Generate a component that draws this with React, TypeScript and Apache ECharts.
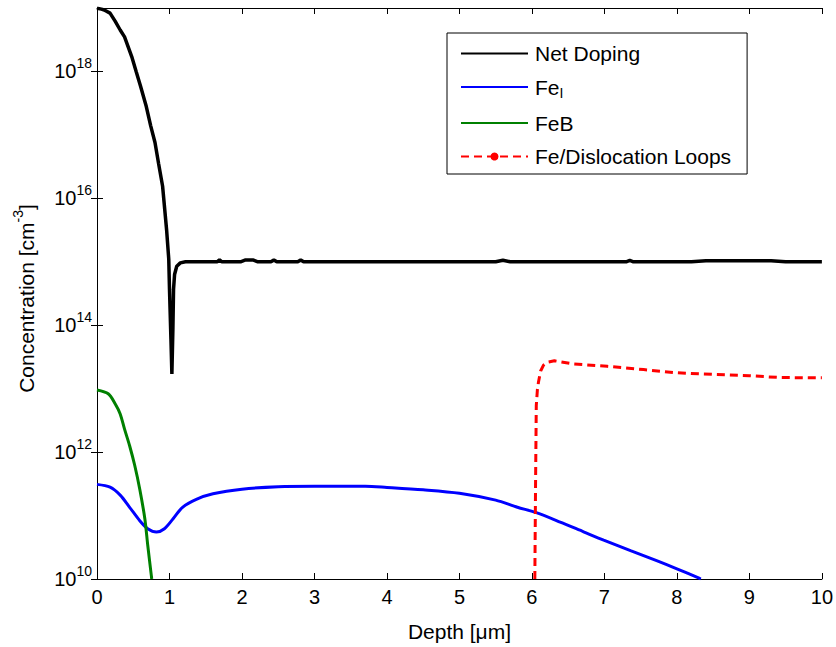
import React, { useEffect, useRef } from 'react';
import * as echarts from 'echarts';

// ---------- data ----------
const xTickLabels = [0, 1, 2, 3, 4, 5, 6, 7, 8, 9, 10];
const yTickValues = [1e10, 1e12, 1e14, 1e16, 1e18];

const netDepth = [0, 0.06, 0.1, 0.18, 0.25, 0.32, 0.38, 0.48, 0.54, 0.6, 0.68, 0.74, 0.8, 0.85, 0.905, 0.96, 0.99, 1.0, 1.02, 1.033, 1.047, 1.056, 1.07, 1.1, 1.15, 1.22, 1.6, 1.66, 1.69, 1.72, 1.98, 2.05, 2.15, 2.22, 2.4, 2.44, 2.48, 2.77, 2.81, 2.85, 4.0, 5.5, 5.6, 5.7, 7.3, 7.35, 7.4, 8.2, 8.4, 9.3, 9.5, 9.6, 10];
const netConc = [9.9e18, 9.6e18, 9.3e18, 8.3e18, 6.2e18, 4.5e18, 3.5e18, 1.7e18, 1.0e18, 5.9e17, 2.8e17, 1.4e17, 7.6e16, 3.5e16, 1.55e16, 3.2e15, 1.1e15, 3.7e14, 6.0e13, 1.7e13, 8.7e13, 3.7e14, 6.3e14, 8.5e14, 9.6e14, 1.0e15, 1.0e15, 1.0e15, 1.08e15, 1.0e15, 1.0e15, 1.07e15, 1.07e15, 1.0e15, 1.0e15, 1.07e15, 1.0e15, 1.0e15, 1.07e15, 1.0e15, 1.0e15, 1.0e15, 1.06e15, 1.0e15, 1.0e15, 1.05e15, 1.0e15, 1.0e15, 1.04e15, 1.04e15, 1.0e15, 1.0e15, 1.0e15];

const feIDepth = [0, 0.18, 0.32, 0.45, 0.59, 0.7, 0.82, 0.93, 1.05, 1.18, 1.37, 1.6, 2.0, 2.5, 3.0, 3.7, 4.0, 4.5, 5.0, 5.5, 5.8, 6.05, 6.39, 6.72, 6.99, 7.36, 7.72, 8.0, 8.29, 8.33];
const feIConc = [3.1e11, 2.8e11, 2.1e11, 1.35e11, 8.3e10, 6.2e10, 5.5e10, 6.2e10, 8.9e10, 1.35e11, 1.8e11, 2.2e11, 2.6e11, 2.85e11, 2.9e11, 2.9e11, 2.78e11, 2.55e11, 2.25e11, 1.75e11, 1.35e11, 1.12e11, 7.9e10, 5.5e10, 4.1e10, 2.8e10, 1.95e10, 1.45e10, 1.05e10, 1.0e10];

const feBDepth = [0, 0.155, 0.25, 0.32, 0.38, 0.45, 0.52, 0.59, 0.66, 0.7, 0.75, 0.755];
const feBConc = [9.5e12, 8.3e12, 5.8e12, 4.0e12, 2.3e12, 1.26e12, 6.2e11, 2.6e11, 8.9e10, 3.4e10, 1.12e10, 1.0e10];

const loopsDepth = [6.04, 6.05, 6.06, 6.075, 6.09, 6.12, 6.16, 6.21, 6.31, 6.58, 7.04, 7.54, 7.95, 8.36, 9.0, 9.41, 9.96, 10];
const loopsConc = [1.0e10, 3.0e11, 5.4e12, 9.5e12, 1.26e13, 1.9e13, 2.35e13, 2.6e13, 2.75e13, 2.45e13, 2.25e13, 2.0e13, 1.8e13, 1.7e13, 1.6e13, 1.5e13, 1.48e13, 1.48e13];

const seriesNames = ['Net Doping', 'FeI', 'FeB', 'Fe/Dislocation Loops'];

const pairs = (xs: number[], ys: number[]) => xs.map((x, i) => [x, ys[i]]);

const FONT = '"Liberation Sans", Arial, Helvetica, sans-serif';

export default function App() {
  const ref = useRef<HTMLDivElement>(null);

  useEffect(() => {
    const chart = echarts.init(ref.current as HTMLDivElement, null, { renderer: 'svg' });

    const axisLine = { show: true, lineStyle: { color: '#000', width: 1 } };
    const tick = { show: true, inside: true, length: 6, lineStyle: { color: '#000', width: 1 } };

    chart.setOption({
      animation: false,
      backgroundColor: '#ffffff',
      grid: { left: 97, right: 10, top: 8, bottom: 67, containLabel: false },
      xAxis: [
        {
          type: 'value',
          min: 0,
          max: 10,
          interval: 1,
          position: 'bottom',
          name: 'Depth [μm]',
          nameLocation: 'middle',
          nameGap: 42,
          nameTextStyle: { color: '#000', fontFamily: FONT, fontSize: 21 },
          axisLine,
          axisTick: tick,
          axisLabel: {
            margin: 8,
            color: '#000',
            fontFamily: FONT,
            fontSize: 20,
            formatter: (v: number) => String(xTickLabels[Math.round(v)] ?? v),
          },
          splitLine: { show: false },
        },
        {
          type: 'value',
          min: 0,
          max: 10,
          interval: 1,
          position: 'top',
          axisLine,
          axisTick: tick,
          axisLabel: { show: false },
          splitLine: { show: false },
        },
      ],
      yAxis: [
        {
          type: 'log',
          logBase: 10,
          min: 1e10,
          max: 1e19,
          position: 'left',
          name: '{b|Concentration [cm}{s|-3}{b|]}',
          nameLocation: 'middle',
          nameRotate: 90,
          nameGap: 56,
          nameTextStyle: {
            color: '#000',
            fontFamily: FONT,
            fontSize: 21,
            padding: [0, 10, 0, 0],
            rich: {
              b: { fontSize: 21, lineHeight: 30, verticalAlign: 'middle', color: '#000', fontFamily: FONT },
              s: { fontSize: 14, lineHeight: 10, verticalAlign: 'top', color: '#000', fontFamily: FONT },
            },
          },
          axisLine,
          axisTick: { ...tick, customValues: yTickValues },
          minorTick: { show: false },
          axisLabel: {
            customValues: yTickValues,
            margin: 5,
            color: '#000',
            fontFamily: FONT,
            formatter: (v: number) => `{b|10}{s|${Math.round(Math.log10(v))}}`,
            rich: {
              b: { fontSize: 20, lineHeight: 30, verticalAlign: 'middle', color: '#000', fontFamily: FONT },
              s: { fontSize: 14, lineHeight: 10, verticalAlign: 'top', color: '#000', fontFamily: FONT },
            },
          },
          splitLine: { show: false },
        },
        {
          type: 'log',
          logBase: 10,
          min: 1e10,
          max: 1e19,
          position: 'right',
          axisLine,
          axisTick: { ...tick, customValues: yTickValues },
          minorTick: { show: false },
          axisLabel: { show: false, customValues: yTickValues },
          splitLine: { show: false },
        },
      ],
      legend: {
        orient: 'vertical',
        left: 447,
        top: 33,
        padding: [10, 16, 7, 13],
        itemWidth: 67,
        itemHeight: 10,
        itemGap: 12.5,
        borderColor: '#000',
        borderWidth: 1,
        borderRadius: 0,
        backgroundColor: '#ffffff',
        selectedMode: false,
        data: [
          { name: seriesNames[0], itemStyle: { opacity: 0 } },
          { name: seriesNames[1], itemStyle: { opacity: 0 } },
          { name: seriesNames[2], itemStyle: { opacity: 0 } },
          { name: seriesNames[3] },
        ],
        formatter: (name: string) => (name === 'FeI' ? '{b|Fe}{sub|I}' : `{b|${name}}`),
        textStyle: {
          color: '#000',
          fontFamily: FONT,
          fontSize: 21,
          padding: [0, 0, 0, 2],
          rich: {
            b: { fontSize: 21, lineHeight: 26, verticalAlign: 'middle', color: '#000', fontFamily: FONT },
            sub: { fontSize: 14, lineHeight: 12, verticalAlign: 'bottom', color: '#000', fontFamily: FONT },
          },
        },
      },
      series: [
        {
          name: seriesNames[0],
          type: 'line',
          data: pairs(netDepth, netConc),
          symbol: 'none',
          lineStyle: { color: '#000000', width: 3.5 },
          itemStyle: { color: '#000000' },
          z: 2,
        },
        {
          name: seriesNames[1],
          type: 'line',
          data: pairs(feIDepth, feIConc),
          symbol: 'none',
          smooth: 0.3,
          lineStyle: { color: '#0000ff', width: 3 },
          itemStyle: { color: '#0000ff' },
          z: 3,
        },
        {
          name: seriesNames[2],
          type: 'line',
          data: pairs(feBDepth, feBConc),
          symbol: 'none',
          smooth: 0.3,
          lineStyle: { color: '#008000', width: 3 },
          itemStyle: { color: '#008000' },
          z: 4,
        },
        {
          name: seriesNames[3],
          type: 'line',
          data: pairs(loopsDepth, loopsConc),
          symbol: 'circle',
          symbolSize: 8,
          showSymbol: false,
          lineStyle: { color: '#ff0000', width: 3, type: [8, 5] },
          itemStyle: { color: '#ff0000' },
          z: 5,
        },
      ],
    });

    return () => chart.dispose();
  }, []);

  return (
    <div
      ref={ref}
      style={{ position: 'absolute', left: 0, top: 0, width: 836, height: 647 }}
    />
  );
}
